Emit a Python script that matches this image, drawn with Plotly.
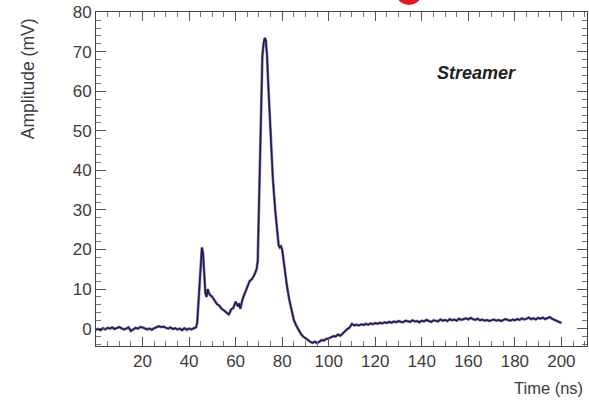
import plotly.graph_objects as go

# ---- data ----
time_baseline = [0, 1, 2, 3, 4, 5, 6, 7, 8, 9, 10, 11, 12, 13, 14, 15, 16, 17, 18, 19, 20,
                 21, 22, 23, 24, 25, 26, 27, 28, 29, 30, 31, 32, 33, 34, 35, 36, 37, 38, 39,
                 40, 41, 42, 43]
amp_baseline = [-0.3, -0.1, -0.4, 0.1, -0.2, 0.2, 0.0, 0.3, -0.1, 0.2, 0.4, 0.1, -0.2, 0.0,
                0.3, -0.6, -0.1, 0.2, 0.0, 0.4, 0.3, 0.1, -0.2, 0.0, -0.3, 0.1, 0.3, 0.6, 0.4,
                0.5, 0.2, 0.0, 0.3, -0.1, 0.1, -0.2, 0.0, -0.4, 0.1, -0.3, 0.0, -0.2, 0.1, 0.3]

time_pulse = [43.5, 44, 44.5, 45, 45.5, 46, 46.5, 47, 47.5, 48, 48.5, 49, 50, 51, 52, 53,
              54, 55, 56, 57, 57.5, 58, 59, 60, 60.5, 61, 61.5, 62, 63, 64, 65, 66, 67, 68,
              69, 69.5, 70, 70.5, 71, 71.5, 72, 72.5, 73, 73.5, 74, 74.5, 75, 76, 77, 78,
              78.5, 79, 79.5, 80, 81, 82, 83, 84, 85, 86, 87, 88, 89, 90, 91, 92, 93, 94,
              95, 96, 97, 98, 99, 100, 101, 102, 103, 104, 105, 106, 107, 108, 109, 110, 111]
amp_pulse = [1.5, 6.0, 13.0, 17.0, 20.5, 19.0, 14.0, 9.0, 8.0, 10.0, 9.0, 8.5, 8.0, 7.0,
             6.2, 5.8, 5.0, 4.6, 4.2, 3.6, 4.0, 4.8, 5.2, 6.8, 6.2, 5.6, 6.4, 5.0, 7.5, 9.0,
             10.5, 12.0, 12.5, 13.5, 15.0, 17.0, 30.0, 45.0, 60.0, 69.0, 72.0, 73.5, 72.8,
             69.0, 62.0, 55.0, 48.0, 38.0, 30.0, 24.0, 21.0, 20.5, 20.8, 20.0, 15.0, 11.0,
             7.5, 4.5, 2.2, 0.8, -0.3, -1.3, -2.0, -2.5, -2.9, -3.3, -3.6, -3.3, -3.7, -3.3,
             -2.9, -3.0, -2.6, -2.5, -2.2, -1.9, -2.0, -1.5, -1.8, -1.2, -0.6, -0.1, 0.3,
             1.2, 0.8]

time_tail = [112, 113, 114, 115, 116, 117, 118, 119, 120, 121, 122, 123, 124, 125, 126, 127,
             128, 129, 130, 131, 132, 133, 134, 135, 136, 137, 138, 139, 140, 141, 142, 143,
             144, 145, 146, 147, 148, 149, 150, 151, 152, 153, 154, 155, 156, 157, 158, 159,
             160, 161, 162, 163, 164, 165, 166, 167, 168, 169, 170, 171, 172, 173, 174, 175,
             176, 177, 178, 179, 180, 181, 182, 183, 184, 185, 186, 187, 188, 189, 190, 191,
             192, 193, 194, 195, 196, 197, 198, 199, 200]
amp_tail = [1.0, 0.8, 1.1, 0.9, 1.2, 1.0, 1.3, 1.1, 1.4, 1.2, 1.5, 1.3, 1.6, 1.4, 1.7, 1.5,
            1.8, 1.6, 1.9, 1.7, 1.6, 2.0, 1.8, 1.7, 2.1, 1.8, 1.9, 1.6, 2.0, 1.8, 2.2, 1.9,
            1.7, 2.1, 2.0, 1.8, 2.3, 2.0, 2.2, 1.9, 2.4, 2.1, 2.3, 2.0, 2.5, 2.2, 2.4, 2.6,
            2.3, 2.7, 2.4, 2.2, 2.5, 2.1, 2.3, 2.0, 2.2, 1.9, 2.1, 2.3, 2.0, 2.2, 1.9, 2.1,
            2.4, 2.2, 2.0, 2.3, 2.1, 2.4, 2.2, 2.6, 2.3, 2.5, 2.8, 2.4, 2.6, 2.3, 2.7, 2.5,
            2.8, 2.4, 2.6, 2.9, 2.5, 2.2, 2.0, 1.7, 1.4]

x_tick_vals = [20, 40, 60, 80, 100, 120, 140, 160, 180, 200]
y_tick_vals = [0, 10, 20, 30, 40, 50, 60, 70, 80]

time_ns = time_baseline + time_pulse + time_tail
amplitude_mV = amp_baseline + amp_pulse + amp_tail

# ---- figure ----
fig = go.Figure()
fig.add_trace(go.Scatter(x=time_ns, y=amplitude_mV, mode="lines",
                         line=dict(color="rgba(112,112,200,0.85)", width=2.8),
                         hoverinfo="skip"))
fig.add_trace(go.Scatter(x=time_ns, y=amplitude_mV, mode="lines",
                         line=dict(color="#1e1e44", width=1.6)))

txt = "#3c3c3c"
font_family = "Liberation Sans, Arial, sans-serif"

fig.update_layout(
    width=589, height=404,
    margin=dict(l=96, r=2, t=12, b=58),
    paper_bgcolor="white", plot_bgcolor="white",
    showlegend=False,
    font=dict(family=font_family, color=txt),
    xaxis=dict(range=[0, 211], tickvals=x_tick_vals, ticks="inside", ticklen=9,
               tickcolor="#555", tickwidth=1, showline=True, linecolor="#444",
               linewidth=1, mirror="ticks", showgrid=False, zeroline=False,
               tickfont=dict(size=17, color=txt),
               minor=dict(dtick=5, tick0=0, ticks="inside", ticklen=5,
                          tickcolor="#777", showgrid=False)),
    yaxis=dict(range=[-4.4, 80.05], tickvals=y_tick_vals, ticks="inside", ticklen=10,
               tickcolor="#555", tickwidth=1, showline=True, linecolor="#444",
               linewidth=1, mirror="ticks", showgrid=False, zeroline=False,
               tickfont=dict(size=17, color=txt),
               minor=dict(dtick=2, tick0=0, ticks="inside", ticklen=5,
                          tickcolor="#777", showgrid=False)),
    annotations=[
        dict(text="Time (ns)", xref="paper", yref="paper", x=0.996, y=-0.1257,
             xanchor="right", yanchor="middle", showarrow=False,
             font=dict(size=16.5, color=txt)),
        dict(text="Amplitude (mV)", xref="paper", yref="paper", x=-0.1385, y=0.802,
             xanchor="center", yanchor="middle", textangle=-90, showarrow=False,
             font=dict(size=17.5, color=txt)),
        dict(text="<b><i>Streamer</i></b>", xref="paper", yref="paper", x=0.775, y=0.817,
             xanchor="center", yanchor="middle", showarrow=False,
             font=dict(size=18, color="#222")),
    ],
    shapes=[
        dict(type="circle", xref="paper", yref="paper", x0=0.613, x1=0.662,
             y0=1.021, y1=1.08, fillcolor="#e8141c", line=dict(width=0), layer="above"),
    ],
)

fig.write_html("out.html")
